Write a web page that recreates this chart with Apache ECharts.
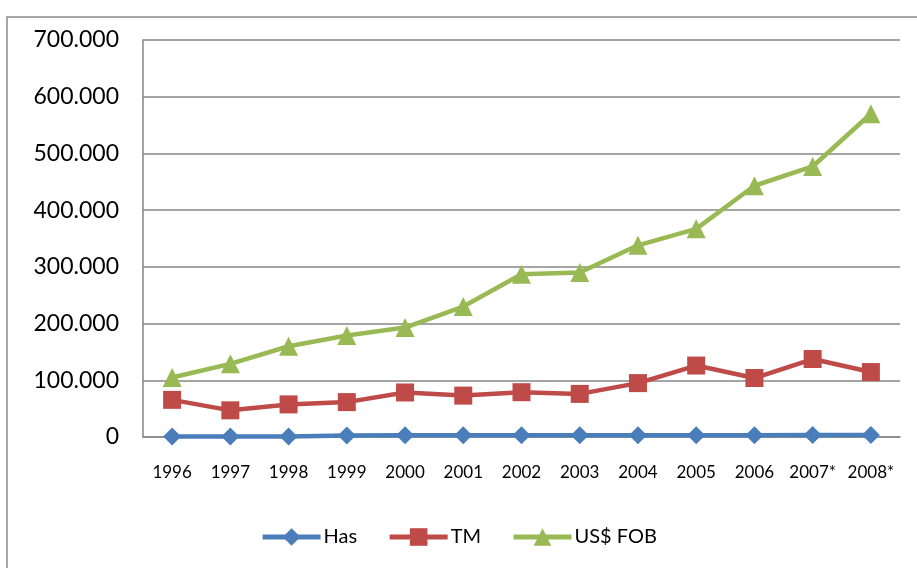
<!DOCTYPE html>
<html>
<head>
<meta charset="utf-8">
<script src="https://cdn.jsdelivr.net/npm/echarts@6/dist/echarts.min.js"></script>
<style>
  html, body { margin: 0; padding: 0; background: #fff; }
  #main { width: 917px; height: 568px; }
</style>
</head>
<body>
<div id="main"></div>
<script>
var years = ['1996', '1997', '1998', '1999', '2000', '2001', '2002', '2003', '2004', '2005', '2006', '2007*', '2008*'];
var has = [800, 900, 1000, 2800, 3000, 3000, 3100, 3100, 3200, 3300, 3300, 3400, 3500];
var tm = [65500, 47000, 57500, 61500, 78500, 73000, 79000, 76000, 95000, 126000, 104000, 137500, 114500];
var usFob = [105000, 129000, 160000, 179000, 193000, 230000, 287000, 290000, 338000, 367000, 443000, 477000, 570000];

// 700000 -> "700.000"
function fmt(v) {
  return String(v).replace(/\B(?=(\d{3})+(?!\d))/g, '.');
}

var myChart = echarts.init(document.getElementById('main'));
var fontFam = 'Lato, "Open Sans", sans-serif';

myChart.setOption({
  animation: false,
  backgroundColor: '#fff',
  graphic: [{
    type: 'rect',
    shape: { x: 7, y: 17, width: 930, height: 580 },
    style: { fill: 'none', stroke: '#8c8c8c', lineWidth: 1.5 },
    silent: true
  }],
  grid: { left: 143, right: 17, top: 40, bottom: 131 },
  legend: {
    bottom: 16,
    left: 'center',
    itemWidth: 58,
    itemHeight: 22,
    itemGap: 30,
    lineStyle: { width: 5 },
    textStyle: { fontFamily: fontFam, fontSize: 20, color: '#000', padding: [0, 0, 0, -2] },
    data: ['Has', 'TM', 'US$ FOB']
  },
  xAxis: {
    type: 'category',
    data: years,
    axisLine: { lineStyle: { color: '#868686', width: 1.5 } },
    axisTick: { show: false },
    axisLabel: { color: '#000', fontFamily: fontFam, fontSize: 17, margin: 27, interval: 0 }
  },
  yAxis: {
    type: 'value',
    min: 0,
    max: 700000,
    interval: 100000,
    axisLine: { show: true, lineStyle: { color: '#868686', width: 1.5 } },
    axisTick: { show: false },
    splitLine: { lineStyle: { color: '#868686', width: 1.5 } },
    axisLabel: { color: '#000', fontFamily: fontFam, fontSize: 23, margin: 24, formatter: fmt }
  },
  series: [
    {
      name: 'Has', type: 'line', data: has,
      symbol: 'diamond', symbolSize: 18,
      itemStyle: { color: '#4A7EBB' },
      lineStyle: { color: '#4A7EBB', width: 4.5 }
    },
    {
      name: 'TM', type: 'line', data: tm,
      symbol: 'rect', symbolSize: 18,
      itemStyle: { color: '#BE4B48' },
      lineStyle: { color: '#BE4B48', width: 4.5 }
    },
    {
      name: 'US$ FOB', type: 'line', data: usFob,
      symbol: 'triangle', symbolSize: 19,
      itemStyle: { color: '#98B954' },
      lineStyle: { color: '#98B954', width: 4.5 }
    }
  ]
});
</script>
</body>
</html>
